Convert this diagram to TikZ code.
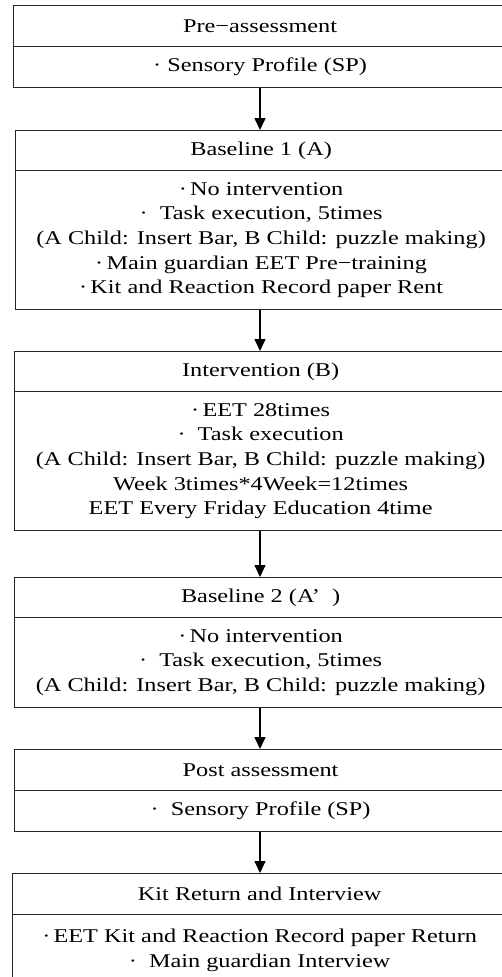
\documentclass[tikz,border=0pt]{standalone}
\usepackage{fontspec}
\setmainfont{Liberation Serif}[FakeStretch=1.245]
\usetikzlibrary{arrows.meta}
\begin{document}
\begin{tikzpicture}[x=1pt,y=-1pt,
  part/.style={draw=black!85, line width=1.2pt, rectangle, anchor=north west,
    inner sep=0pt, align=center, font=\fontsize{19.5}{24.7}\selectfont},
  arr/.style={draw=black, line width=1.6pt, -{Triangle[length=12pt,width=11pt]}}]
\useasboundingbox (0,0) rectangle (502,977);
\coordinate (ax) at (260,0);
% Box 1
\node[part, minimum width=493, minimum height=41] (t1) at (13,5) {Pre−assessment};
\node[part, minimum width=493, minimum height=41] (b1) at (13,46) {·\ Sensory Profile (SP)};
% Box 2
\node[part, minimum width=491, minimum height=40] (t2) at (15,130) {Baseline 1 (A)};
\node[part, minimum width=491, minimum height=139] (b2) at (15,170) {·\,No intervention\\ ·\ \ Task execution, 5times\\ (A Child: Insert Bar, B Child: puzzle making)\\ ·\,Main guardian EET Pre−training\\ ·\,Kit and Reaction Record paper Rent};
% Box 3
\node[part, minimum width=492, minimum height=40] (t3) at (14,351) {Intervention (B)};
\node[part, minimum width=492, minimum height=139] (b3) at (14,391) {·\,EET 28times\\ ·\ \ Task execution\\ (A Child: Insert Bar, B Child: puzzle making)\\ Week 3times*4Week=12times\\ EET Every Friday Education 4time};
% Box 4
\node[part, minimum width=492, minimum height=40] (t4) at (14,577) {Baseline 2 (A’\ \ )};
\node[part, minimum width=492, minimum height=90] (b4) at (14,617) {·\,No intervention\\ ·\ \ Task execution, 5times\\ (A Child: Insert Bar, B Child: puzzle making)};
% Box 5
\node[part, minimum width=492, minimum height=41] (t5) at (14,749) {Post assessment};
\node[part, minimum width=492, minimum height=41] (b5) at (14,790) {·\ \ Sensory Profile (SP)};
% Box 6
\node[part, minimum width=494, minimum height=41] (t6) at (12,873) {Kit Return and Interview};
\node[part, minimum width=494, minimum height=72] (b6) at (12,914) {·\,EET Kit and Reaction Record paper Return\\ ·\ \ Main guardian Interview};
% Arrows
\draw[arr] (b1.south -| ax) -- (t2.north -| ax);
\draw[arr] (b2.south -| ax) -- (t3.north -| ax);
\draw[arr] (b3.south -| ax) -- (t4.north -| ax);
\draw[arr] (b4.south -| ax) -- (t5.north -| ax);
\draw[arr] (b5.south -| ax) -- (t6.north -| ax);
\end{tikzpicture}
\end{document}
